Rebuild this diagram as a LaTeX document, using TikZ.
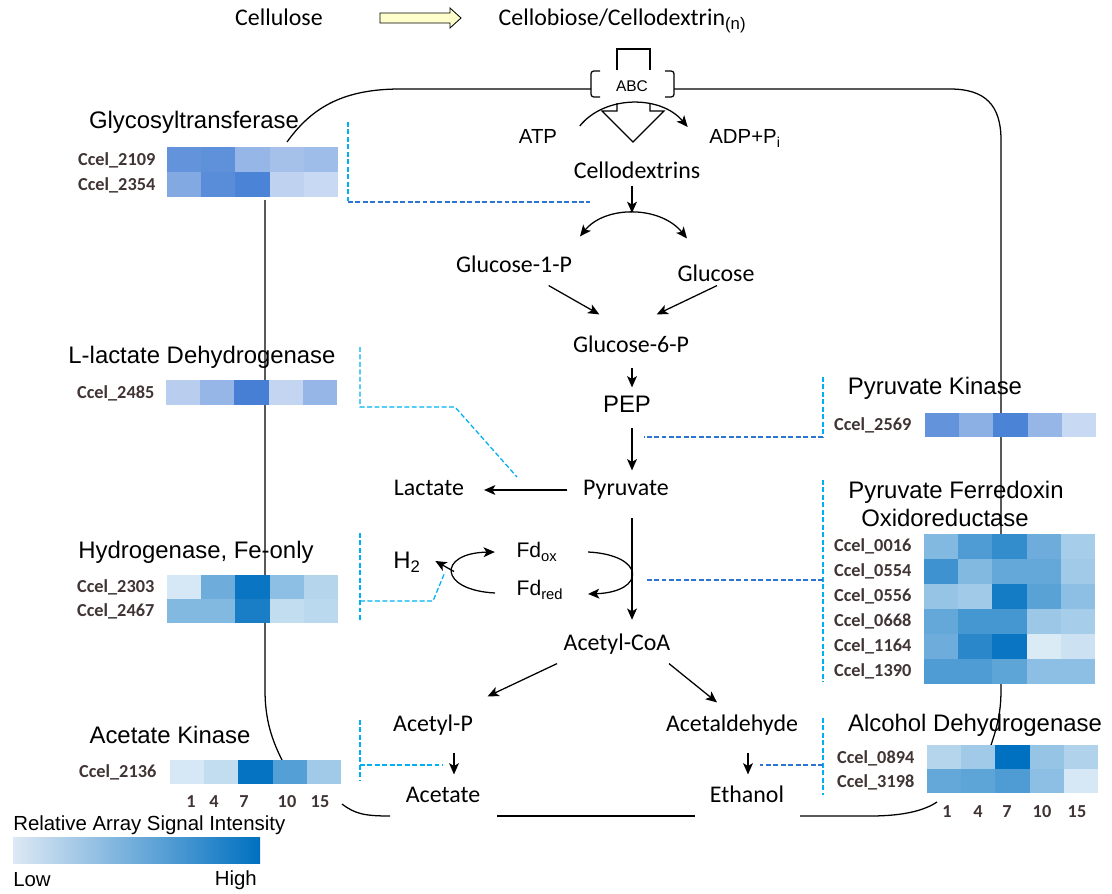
\documentclass[tikz,border=0pt]{standalone}
\usepackage{fontspec}
\setmainfont{Carlito}
\newfontfamily\arialf{Liberation Sans}
\usetikzlibrary{arrows.meta}

\definecolor{hmA}{RGB}{60,120,210}
\definecolor{hmB}{RGB}{0,112,192}
\definecolor{lb}{RGB}{0,176,240}
\definecolor{mb}{RGB}{46,117,210}
\definecolor{genetxt}{RGB}{64,52,52}
\definecolor{blkfill}{RGB}{255,255,204}
\definecolor{lowc}{RGB}{221,232,244}

% one heatmap row: colour, left x, top y, height, values
\newcommand{\hmrow}[5]{\foreach \hv [count=\hi from 0] in {#5} {\fill[#1!\hv] ({#2+34.2*\hi},#3) rectangle ++(34.2,#4);}}

\begin{document}
\begin{tikzpicture}[x=0.025cm,y=-0.025cm,
  >={Stealth[length=8pt,width=7pt,inset=2pt]},
  met/.style={font=\fontsize{17}{20}\selectfont,text height=12pt,text depth=3.5pt,inner sep=1pt},
  arl/.style={met,font=\arialf\fontsize{17}{20}\selectfont},
  sarl/.style={met,font=\arialf\fontsize{14.5}{17}\selectfont},
  fdn/.style={met,font=\arialf\fontsize{15}{18}\selectfont},
  ttl/.style={font=\arialf\fontsize{17}{20}\selectfont,inner sep=1pt},
  lgd/.style={font=\arialf\fontsize{14.5}{17}\selectfont,inner sep=0pt},
  gene/.style={font=\bfseries\fontsize{13}{15}\selectfont,text=genetxt,anchor=east,inner sep=1pt},
  tick/.style={font=\bfseries\fontsize{13}{15}\selectfont,text=genetxt,inner sep=1pt},
  rxn/.style={->,line width=0.9pt},
  vrxn/.style={rxn,shorten <=6pt,shorten >=5pt},
  memb/.style={line width=0.9pt},
  lnk/.style={draw=lb,line width=0.9pt,dash pattern=on 3.5pt off 1.8pt},
  lnkm/.style={lnk,draw=mb}]

\useasboundingbox (0,0) rectangle (1112,894);

% cell membrane
\draw[memb] (287,142) .. controls (310,110) and (340,89) .. (400,89) -- (591,89);
\draw[memb] (674,89) -- (950,89) .. controls (985,89) and (1001,105) .. (1001,140) -- (1001,690) .. controls (1001,715) and (996,730) .. (991,745);
\draw[memb] (265,200) -- (265,690) .. controls (265,720) and (272,740) .. (282,760);
\draw[memb] (342,804) .. controls (355,814) and (365,816) .. (390,816);
\draw[memb] (497,816) -- (695,816);
\draw[memb] (800,816) -- (870,816) .. controls (905,816) and (925,810) .. (937,802);

% uptake
\node at (279,20) [met] (cellu) {Cellulose};
\draw[fill=blkfill,line width=0.6pt] (380,13) -- (450,13) -- (450,8) -- (461,18) -- (450,28) -- (450,23) -- (380,23) -- cycle;
\node at (497,20) [met,anchor=west] (cbio) {Cellobiose/Cellodextrin\textsubscript{\arialf(n)}};
\draw[memb] (617,70) -- (617,49) -- (650,49) -- (650,70);
\draw[memb,rounded corners=2pt] (600,71) -- (591,71) -- (591,97) -- (600,97);
\draw[memb,rounded corners=2pt] (665,71) -- (674,71) -- (674,97) -- (665,97);
\node at (632,86) [font=\arialf\fontsize{11}{13}\selectfont] (abc) {ABC};
\draw[line width=0.8pt] (617,103) -- (617,111) -- (602,111) -- (633,142) -- (664,111) -- (650,111) -- (650,103);
\node at (538,138) [sarl] (atp) {ATP};
\node at (745,138) [sarl] (adp) {ADP+P\textsubscript{i}};
\draw[rxn] ([shift={(21,-12)}]atp.east) .. controls +(25,-31) and +(-27,-32) .. ([shift={(-20,-11)}]adp.west);

% glycolysis
\node at (637,173) [met] (cdex) {Cellodextrins};
\coordinate (split) at (632,213);
\draw[rxn] (cdex.south -| split) -- (split);
\node at (514,267) [met] (g1p) {Glucose-1-P};
\node at (716,276) [met] (glc) {Glucose};
\draw[rxn,<->] ([shift={(66,-18)}]g1p.north) .. controls +(25,-31) and +(-27,-33) .. ([shift={(-29,-25)}]glc.north);
\node at (631,347) [met] (g6p) {Glucose-6-P};
\draw[rxn] ([shift={(-25,6)}]g1p.south east) -- ([shift={(28,-20)}]g6p.north west);
\draw[rxn] ([shift={(1,-3)}]glc.south) -- ([shift={(-34,-20)}]g6p.north east);
\node at (627,407) [arl] (pep) {PEP};
\draw[vrxn] (g6p.south -| split) -- (pep.north -| split);
\node at (626,490) [met] (pyr) {Pyruvate};
\draw[vrxn] (pep.south -| split) -- (pyr.north -| split);
\node at (429,490) [met] (lact) {Lactate};
\draw[rxn,shorten <=10pt,shorten >=13pt] (pyr) -- (lact);
\node at (617,645) [met] (accoa) {Acetyl-CoA};
\draw[rxn,shorten <=11pt,shorten >=9pt] (pyr.south -| split) -- (accoa.north -| split);

% ferredoxin cycle
\node at (537,552) [fdn] (fdox) {Fd\textsubscript{ox}};
\node at (540,590) [fdn] (fdred) {Fd\textsubscript{red}};
\node at (407,563) [arl] (h2) {H\textsubscript{2}};
\coordinate (fdturn) at (454,571.5);
\draw[rxn] ([shift={(-20,3)}]fdred.west) .. controls +(-57,-3) and +(-57,1) .. ([shift={(-20,0)}]fdox.west);
\draw[rxn] ([shift={(29,0)}]fdox.east) .. controls +(58,3) and +(58,-2) .. ([shift={(23,4)}]fdred.east);
\draw[rxn] (fdturn) -- ([shift={(13,-2)}]h2.east);

% fermentation products
\node at (433,726) [met] (acp) {Acetyl-P};
\node at (732,726) [met] (acald) {Acetaldehyde};
\draw[rxn] ([shift={(-5,6)}]accoa.south west) -- ([shift={(13,-17)}]acp.north east);
\draw[rxn] ([shift={(-3,6)}]accoa.south east) -- ([shift={(-15,-11)}]acald.north);
\node at (443,797) [met] (acet) {Acetate};
\node at (747,797) [met] (etoh) {Ethanol};
\draw[rxn] ([shift={(21,14)}]acp.south) -- ([shift={(11,-10)}]acet.north);
\draw[rxn] ([shift={(16,14)}]acald.south) -- ([shift={(1,-10)}]etoh.north);

% Glycosyltransferase
\node at (194,122) [ttl] (gtase) {Glycosyltransferase};
\hmrow{hmA}{167}{147}{25}{80,82,54,46,49}
\hmrow{hmA}{167}{172}{25}{64,85,92,33,28}
\node at (157,160) [gene] (c2109) {Ccel\_2109};
\node at (157,185) [gene] (c2354) {Ccel\_2354};

% L-lactate dehydrogenase
\node at (202,357) [ttl] (ldh) {L-lactate Dehydrogenase};
\hmrow{hmA}{166}{380}{25}{36,54,95,31,54}
\node at (156,393) [gene] (c2485) {Ccel\_2485};

% hydrogenase
\node at (196,552) [ttl] (hyd) {Hydrogenase, Fe-only};
\hmrow{hmB}{167}{575}{24}{16,57,96,45,29}
\hmrow{hmB}{167}{599}{24}{49,49,90,24,27}
\node at (156,587) [gene] (c2303) {Ccel\_2303};
\node at (156,611) [gene] (c2467) {Ccel\_2467};

% acetate kinase
\node at (170,735) [ttl] (ack) {Acetate Kinase};
\hmrow{hmB}{170}{760}{24}{16,24,98,67,37}
\node at (158,772) [gene] (c2136) {Ccel\_2136};
\foreach \t/\xx [count=\k] in {1/191,4/214,7/244,10/287,15/320}
  \node at (\xx,802) [tick] (akt\k) {\t};

% pyruvate kinase
\node at (935,388) [ttl] (pyk) {Pyruvate Kinase};
\hmrow{hmA}{925}{413}{24}{80,59,92,54,28}
\node at (913,425) [gene] (c2569) {Ccel\_2569};

% pyruvate ferredoxin oxidoreductase
\node at (956,492) [ttl] (pfo) {Pyruvate Ferredoxin};
\node at (945,518) [ttl] (pfob) {Oxidoreductase};
\hmrow{hmB}{924}{534}{25}{49,69,80,57,35}
\hmrow{hmB}{924}{559}{25}{76,49,61,61,37}
\hmrow{hmB}{924}{584}{25}{41,37,92,65,45}
\hmrow{hmB}{924}{609}{25}{61,73,73,39,35}
\hmrow{hmB}{924}{634}{25}{57,84,96,14,20}
\hmrow{hmB}{924}{659}{25}{69,69,63,45,45}
\node at (913,546.5) [gene] (c0016) {Ccel\_0016};
\node at (913,571.5) [gene] (c0554) {Ccel\_0554};
\node at (913,596.5) [gene] (c0556) {Ccel\_0556};
\node at (913,621.5) [gene] (c0668) {Ccel\_0668};
\node at (913,646.5) [gene] (c1164) {Ccel\_1164};
\node at (913,671.5) [gene] (c1390) {Ccel\_1390};

% alcohol dehydrogenase
\node at (975,725) [ttl] (adh) {Alcohol Dehydrogenase};
\hmrow{hmB}{927}{745}{24}{29,37,100,41,31}
\hmrow{hmB}{927}{769}{24}{61,63,69,45,16}
\node at (916,758) [gene] (c0894) {Ccel\_0894};
\node at (916,782) [gene] (c3198) {Ccel\_3198};
\foreach \t/\xx [count=\k] in {1/947,4/978,7/1007,10/1042,15/1077}
  \node at (\xx,812) [tick] (adt\k) {\t};

% enzyme links
\coordinate (gt1) at (348,122); \coordinate (gt2) at (348,202); \coordinate (gt3) at (590,202);
\draw[lnk] (gt1) -- (gt2); \draw[lnkm] (gt2) -- (gt3);
\coordinate (ld1) at (360,347); \coordinate (ld2) at (360,407); \coordinate (ld3) at (455,407); \coordinate (ld4) at (517,477);
\draw[lnk] (ld1) -- (ld2) -- (ld3) -- (ld4);
\coordinate (pk1) at (823,377); \coordinate (pk2) at (823,437); \coordinate (pk3) at (644,437);
\draw[lnk] (pk1) -- (pk2); \draw[lnkm] (pk2) -- (pk3);
\coordinate (hy1) at (360,533); \coordinate (hy2) at (360,620); \coordinate (hy3) at (360,601); \coordinate (hy4) at (433,601); \coordinate (hy5) at (445,572);
\draw[lnk] (hy1) -- (hy2); \draw[lnk] (hy3) -- (hy4) -- (hy5);
\coordinate (pf1) at (823,480); \coordinate (pf2) at (823,682); \coordinate (pf3) at (823,580); \coordinate (pf4) at (645,580);
\draw[lnk] (pf1) -- (pf2); \draw[lnkm] (pf3) -- (pf4);
\coordinate (ak1) at (360,720); \coordinate (ak2) at (360,780); \coordinate (ak3) at (360,765); \coordinate (ak4) at (443,765);
\draw[lnk] (ak1) -- (ak2); \draw[lnk] (ak3) -- (ak4);
\coordinate (ad1) at (823,718); \coordinate (ad2) at (823,795); \coordinate (ad3) at (823,765); \coordinate (ad4) at (760,765);
\draw[lnk] (ad1) -- (ad2); \draw[lnkm] (ad3) -- (ad4);

% legend
\node at (13,825) [lgd,anchor=west] (legt) {Relative Array Signal Intensity};
\shade[left color=lowc,right color=hmB] (13,837) rectangle (260,863);
\node at (13,880) [lgd,anchor=west] (low) {Low};
\node at (257,880) [lgd,anchor=east] (high) {High};
\end{tikzpicture}
\end{document}
